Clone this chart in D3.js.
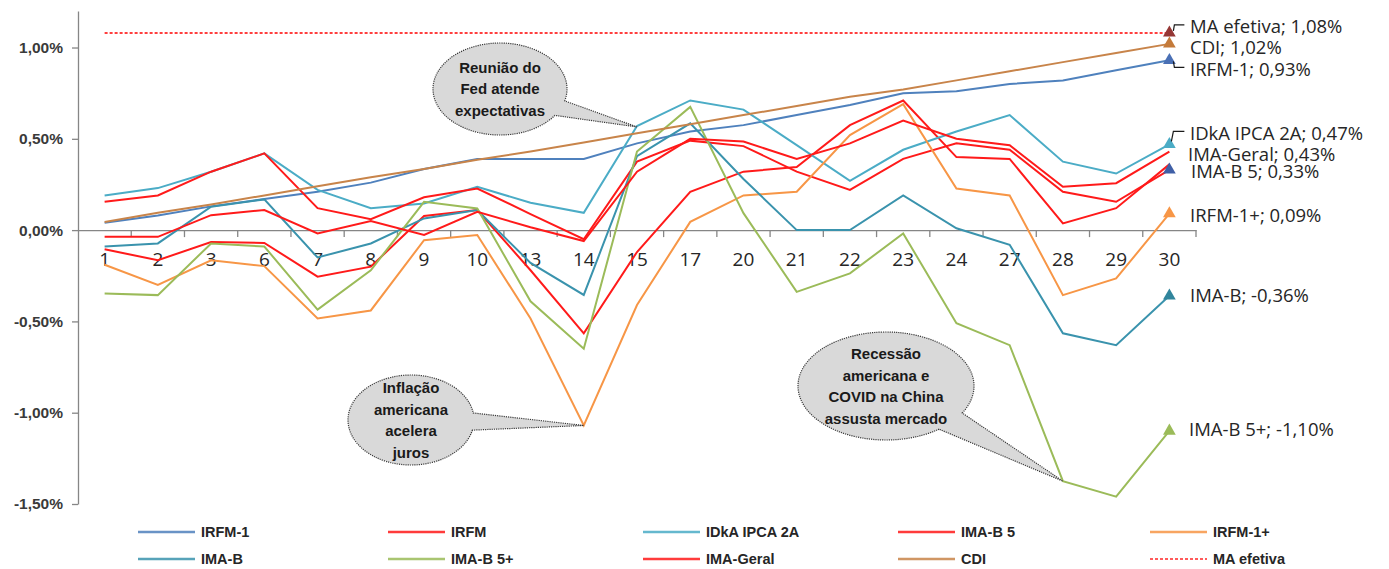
<!DOCTYPE html>
<html>
<head>
<meta charset="utf-8">
<script src="https://cdn.jsdelivr.net/npm/d3@7"></script>
<style>
  html, body { margin: 0; padding: 0; background: #ffffff; }
  svg { display: block; }
</style>
</head>
<body>
<svg id="chart" width="1389" height="569"></svg>
<script>
// ---------------- DATA ----------------
const categories = ["1","2","3","6","7","8","9","10","13","14","15","17","20","21","22","23","24","27","28","29","30"];

const irfm1      = [0.04,0.08,0.13,0.17,0.21,0.26,0.335,0.39,0.39,0.39,0.475,0.54,0.575,0.63,0.685,0.75,0.76,0.80,0.82,0.875,0.93];
const irfm       = [-0.105,-0.165,-0.065,-0.07,-0.255,-0.2,0.077,0.11,-0.22,-0.565,-0.12,0.21,0.32,0.345,0.575,0.71,0.40,0.39,0.037,0.12,0.36];
const idkaIpca2a = [0.19,0.23,0.32,0.42,0.22,0.12,0.146,0.237,0.15,0.095,0.57,0.71,0.66,0.465,0.27,0.44,0.54,0.63,0.375,0.31,0.47];
const imaB5      = [0.155,0.19,0.32,0.42,0.12,0.06,0.18,0.228,0.088,-0.05,0.375,0.49,0.46,0.32,0.22,0.39,0.475,0.44,0.21,0.155,0.33];
const irfm1Plus  = [-0.19,-0.30,-0.165,-0.197,-0.484,-0.44,-0.055,-0.027,-0.484,-1.07,-0.41,0.045,0.19,0.21,0.52,0.69,0.228,0.19,-0.356,-0.265,0.09];
const imaB       = [-0.09,-0.073,0.128,0.168,-0.15,-0.073,0.064,0.11,-0.18,-0.355,0.405,0.585,0.28,0.0,0.0,0.19,0.01,-0.08,-0.565,-0.63,-0.36];
const imaB5Plus  = [-0.347,-0.356,-0.073,-0.09,-0.435,-0.22,0.155,0.119,-0.39,-0.65,0.43,0.675,0.093,-0.338,-0.237,-0.018,-0.51,-0.63,-1.375,-1.46,-1.10];
const imaGeral   = [-0.037,-0.037,0.082,0.11,-0.018,0.05,-0.027,0.10,0.016,-0.06,0.32,0.50,0.485,0.39,0.475,0.60,0.50,0.465,0.237,0.257,0.43];
const cdi        = [0.045,0.095,0.14,0.19,0.24,0.29,0.335,0.385,0.43,0.48,0.53,0.58,0.63,0.68,0.73,0.77,0.82,0.87,0.92,0.97,1.02];
const maEfetiva  = [1.08,1.08,1.08,1.08,1.08,1.08,1.08,1.08,1.08,1.08,1.08,1.08,1.08,1.08,1.08,1.08,1.08,1.08,1.08,1.08,1.08];

const seriesNames = ["IRFM-1","IRFM","IDkA IPCA 2A","IMA-B 5","IRFM-1+","IMA-B","IMA-B 5+","IMA-Geral","CDI","MA efetiva"];
const yTickValues = [-1.5,-1.0,-0.5,0,0.5,1.0];

const callout1 = ["Reunião do","Fed atende","expectativas"];
const callout2 = ["Inflação","americana","acelera","juros"];
const callout3 = ["Recessão","americana e","COVID na China","assusta mercado"];

// ---------------- STYLES ----------------
const seriesValues = [irfm1, irfm, idkaIpca2a, imaB5, irfm1Plus, imaB, imaB5Plus, imaGeral, cdi, maEfetiva];
const colors = ["#4F81BD","#FF1A1A","#4BACC6","#FF1A1A","#F79646","#3A93AD","#9BBB59","#FF1A1A","#C8844A","#FF0000"];
const markerColors = ["#4A70B5", null, "#4BACC6", "#3F5FA6", "#F79646", "#31859C", "#9BBB59", null, "#C47A3A", "#953735"];
// label layout: dy offset relative to the last point (pixels), x start
const labelLayout = {
  "MA efetiva":   {dy: -6,  x: 1190},
  "CDI":          {dy: 4,   x: 1190},
  "IRFM-1":       {dy: 9,   x: 1190},
  "IDkA IPCA 2A": {dy: -11, x: 1190},
  "IMA-Geral":    {dy: 3,   x: 1188},
  "IMA-B 5":      {dy: 2,   x: 1191},
  "IRFM-1+":      {dy: 2,   x: 1190},
  "IMA-B":        {dy: 0,   x: 1190},
  "IMA-B 5+":     {dy: -1,  x: 1189}
};

const svg = d3.select("#chart");
const x = d3.scaleBand().domain(categories).range([78, 1196]).padding(0);
const y = d3.scaleLinear().domain([-1.5, 1.2]).range([504, 11]);
const cx = c => x(c) + x.bandwidth() / 2;
const fmtPct = d => (d < 0 ? "-" : "") + Math.abs(d).toFixed(2).replace(".", ",") + "%";

// ---------------- AXES ----------------
const yAxis = d3.axisLeft(y).tickValues(yTickValues).tickFormat(fmtPct).tickSize(6).tickSizeOuter(0).tickPadding(9);
const gy = svg.append("g").attr("transform", "translate(78,0)").call(yAxis);
gy.select(".domain").attr("stroke", "#868686").attr("stroke-width", 1.3);
gy.selectAll(".tick line").attr("stroke", "#868686").attr("stroke-width", 1.3);
gy.selectAll("text").attr("fill", "#3a3a3a").style("font-family", "'Liberation Sans', Arial, sans-serif")
  .style("font-size", "15.5px").style("font-weight", "bold");

const xAxis = d3.axisBottom(x).tickSize(0).tickSizeOuter(0).tickPadding(22);
const gx = svg.append("g").attr("transform", `translate(0,${y(0)})`).call(xAxis);
gx.select(".domain").attr("stroke", "#868686").attr("stroke-width", 1.3);
gx.selectAll("text").attr("fill", "#262626").style("font-family", "'Open Sans', sans-serif").style("font-size", "19px");
// boundary tick marks
const boundaries = categories.map(c => x(c)).concat([x.range()[1]]).slice(1);
svg.append("g").selectAll("line").data(boundaries).join("line")
  .attr("x1", d => d).attr("x2", d => d).attr("y1", y(0)).attr("y2", y(0) + 7)
  .attr("stroke", "#868686").attr("stroke-width", 1.3);

// ---------------- LINES ----------------
const line = d3.line().x((d, i) => cx(categories[i])).y(d => y(d));
const gLines = svg.append("g");
seriesNames.forEach((name, k) => {
  gLines.append("path").datum(seriesValues[k])
    .attr("d", line)
    .attr("fill", "none")
    .attr("stroke", colors[k])
    .attr("stroke-width", name === "MA efetiva" ? 1.5 : 2)
    .attr("stroke-dasharray", name === "MA efetiva" ? "3,2" : null)
    .attr("stroke-linejoin", "miter");
});

// ---------------- END MARKERS & LABELS ----------------
const lastCat = categories[categories.length - 1];
const gMarks = svg.append("g");
seriesNames.forEach((name, k) => {
  const v = seriesValues[k][seriesValues[k].length - 1];
  if (markerColors[k]) {
    gMarks.append("path")
      .attr("d", d3.symbol(d3.symbolTriangle, 70)())
      .attr("transform", `translate(${cx(lastCat)},${y(v)})`)
      .attr("fill", markerColors[k]);
  }
  const lay = labelLayout[name];
  if (lay) {
    gMarks.append("text")
      .attr("x", lay.x).attr("y", y(v) + lay.dy)
      .attr("dy", "0.35em")
      .attr("fill", "#262626")
      .style("font-family", "'Open Sans', sans-serif").style("font-size", "18.5px")
      .text(name + "; " + fmtPct(v));
  }
});
// leader lines
function leader(name, pts) {
  const k = seriesNames.indexOf(name);
  const v = seriesValues[k][seriesValues[k].length - 1];
  const px = cx(lastCat), py = y(v);
  svg.append("path")
    .attr("d", d3.line()(pts.map(p => [px + p[0], py + p[1]])))
    .attr("fill", "none").attr("stroke", "#1a1a1a").attr("stroke-width", 1.2);
}
leader("MA efetiva", [[4, -2], [5, -8], [15, -8]]);
leader("IRFM-1", [[4, 1], [5, 7], [15, 7]]);
leader("IDkA IPCA 2A", [[2, -3], [4, -13], [15, -13]]);

// ---------------- CALLOUTS ----------------
function callout(cxp, cyp, rx, ry, a1, a2, tip, lines, lineH) {
  const P = a => [cxp + rx * Math.cos(a * Math.PI / 180), cyp + ry * Math.sin(a * Math.PI / 180)];
  const p1 = P(a1), p2 = P(a2);
  const d = `M${p2[0]},${p2[1]} A${rx},${ry} 0 1 1 ${p1[0]},${p1[1]} L${tip[0]},${tip[1]} Z`;
  const g = svg.append("g");
  g.append("path").attr("d", d).attr("fill", "#D9D9D9")
    .attr("stroke", "#3a3a3a").attr("stroke-width", 1.2).attr("stroke-dasharray", "1.2,1");
  const n = lines.length;
  g.selectAll("text").data(lines).join("text")
    .attr("x", cxp).attr("y", (d, i) => cyp + (i - (n - 1) / 2) * lineH)
    .attr("dy", "0.35em").attr("text-anchor", "middle")
    .attr("fill", "#1a1a1a")
    .style("font-family", "'Liberation Sans', Arial, sans-serif")
    .style("font-weight", "bold").style("font-size", "15px")
    .text(d => d);
}
callout(500, 89, 67, 46, 15, 35, [cx("15"), y(0.565)], callout1, 21.5);
callout(411, 420, 63, 45, -9, 13, [cx("14"), y(irfm1Plus[9])], callout2, 21.5);
callout(886, 386, 88, 54, 30, 53, [cx("28"), y(imaB5Plus[18])], callout3, 21.5);

// ---------------- LEGEND ----------------
const legendCols = [138, 388, 643, 898, 1150];
const legendRows = [532, 559];
const gLeg = svg.append("g");
seriesNames.forEach((name, k) => {
  const col = k % 5, row = Math.floor(k / 5);
  const lx = legendCols[col], ly = legendRows[row];
  gLeg.append("line").attr("x1", lx).attr("x2", lx + 57).attr("y1", ly).attr("y2", ly)
    .attr("stroke", colors[k]).attr("stroke-width", name === "MA efetiva" ? 1.5 : 2.5)
    .attr("stroke-dasharray", name === "MA efetiva" ? "3,2" : null)
    .attr("opacity", 0.85);
  gLeg.append("text").attr("x", lx + 63).attr("y", ly).attr("dy", "0.35em")
    .attr("fill", "#262626")
    .style("font-family", "'Liberation Sans', Arial, sans-serif")
    .style("font-weight", "bold").style("font-size", "14.5px")
    .text(name);
});
</script>
</body>
</html>
